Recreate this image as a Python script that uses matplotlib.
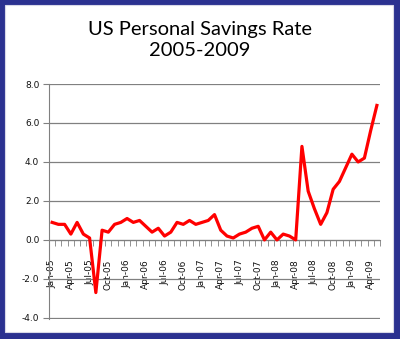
import numpy as np
import matplotlib
matplotlib.use('Agg')
import matplotlib.pyplot as plt
from matplotlib.patches import Rectangle

# monthly personal savings rate, Jan-05 .. May-09
months = ['Jan', 'Feb', 'Mar', 'Apr', 'May', 'Jun',
          'Jul', 'Aug', 'Sep', 'Oct', 'Nov', 'Dec']
years = ['05', '06', '07', '08', '09']
savings_rate = [
    0.9, 0.8, 0.8, 0.3, 0.9, 0.3, 0.1, -2.7, 0.5, 0.4, 0.8, 0.9,   # 2005
    1.1, 0.9, 1.0, 0.7, 0.4, 0.6, 0.2, 0.4, 0.9, 0.8, 1.0, 0.8,    # 2006
    0.9, 1.0, 1.3, 0.5, 0.2, 0.1, 0.3, 0.4, 0.6, 0.7, 0.0, 0.4,    # 2007
    0.0, 0.3, 0.2, 0.0, 4.8, 2.5, 1.6, 0.8, 1.4, 2.6, 3.0, 3.7,    # 2008
    4.4, 4.0, 4.2, 5.6, 6.9,                                        # 2009
]
labels = [f'{months[i % 12]}-{years[i // 12]}' for i in range(len(savings_rate))]
y_ticks = [-4.0, -2.0, 0.0, 2.0, 4.0, 6.0, 8.0]

W, H = 400, 339
fig = plt.figure(figsize=(W / 100, H / 100), dpi=100)
fig.patch.set_facecolor('#2B3190')
fig.patches.append(Rectangle((5 / W, 7 / H), 388 / W, 327 / H, transform=fig.transFigure,
                             facecolor='white', edgecolor='#d8d8e8', lw=0.8, zorder=-5))

ax = fig.add_axes([49 / W, 1 - 318.5 / H, 331 / W, 234.5 / H])
ax.set_facecolor('none')

x = np.arange(len(savings_rate))
ax.plot(x, savings_rate, color='#ff0000', lw=2.3, zorder=3, solid_joinstyle='round')

ax.set_xlim(-0.5, len(savings_rate) - 0.5)
ax.set_ylim(-4.03, 8)
ax.set_yticks(y_ticks)
ax.set_yticklabels([f'{v:.1f}' for v in y_ticks], fontsize=6.5, color='#111111')
ax.grid(axis='y', color='#808080', lw=0.9)
ax.set_axisbelow(True)

for s in ['top', 'right']:
    ax.spines[s].set_visible(False)
ax.spines['left'].set_color('#808080')
ax.spines['bottom'].set_position(('data', 0))
ax.spines['bottom'].set_color('#808080')

ax.set_xticks(x[::3])
ax.set_xticklabels(labels[::3], rotation=90, fontsize=6.5, color='#111111', va='top')
ax.set_xticks(np.arange(-0.5, len(savings_rate)), minor=True)
ax.tick_params(axis='x', which='major', length=0, pad=14)
ax.tick_params(axis='x', which='minor', length=4, color='#808080', direction='out')
ax.tick_params(axis='y', length=4, color='#808080', pad=3)

fig.text(0.5, 1 - 29 / H, 'US Personal Savings Rate', ha='center', va='center',
         fontsize=14.5, family='Lato', color='black')
fig.text(0.5, 1 - 51 / H, '2005-2009', ha='center', va='center',
         fontsize=14.5, family='Lato', color='black')

fig.savefig('out.png', dpi=100, facecolor=fig.get_facecolor())
